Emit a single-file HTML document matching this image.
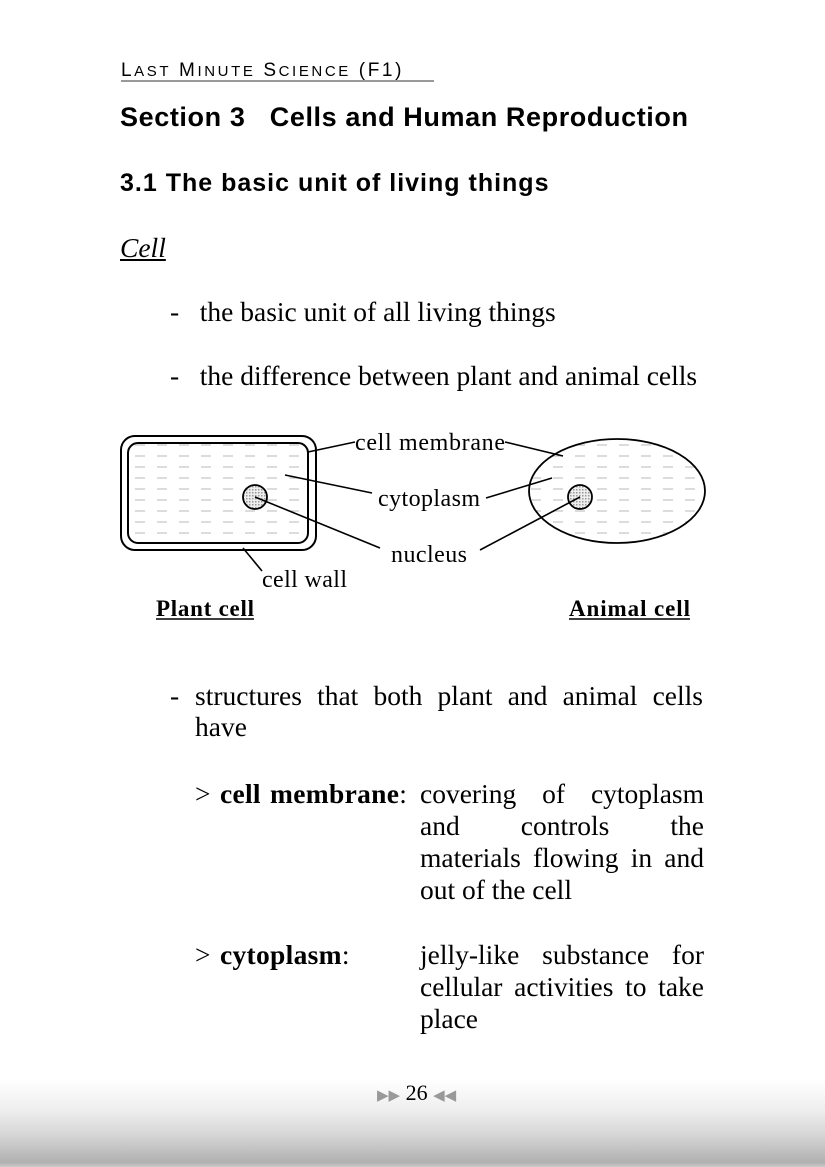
<!DOCTYPE html>
<html><head><meta charset="utf-8"><style>
body{margin:0;width:825px;height:1167px;position:relative;background:#fff;overflow:hidden;font-family:"Liberation Serif",serif;color:#000}
.a{position:absolute;white-space:nowrap}
.s{font-family:"Liberation Sans",sans-serif;font-weight:bold}
.t{font-size:27.5px;font-family:"Liberation Serif",serif}
.j{text-align:justify;text-align-last:justify;display:block;font-family:"Liberation Serif",serif}
</style></head><body>
<div style="position:absolute;left:0;top:1080px;width:825px;height:87px;background:linear-gradient(#fff,#eee 35%,#d4d4d4 65%,#b0b0b0 95%,#ccc)"></div>
<div class="a" style="left:121px;top:61px;font-family:'Liberation Sans',sans-serif;font-size:19px;letter-spacing:2.6px;width:313px;height:19px;border-bottom:2px solid #999;line-height:20px">L<span style="font-size:15px">AST</span> M<span style="font-size:15px">INUTE</span> S<span style="font-size:15px">CIENCE</span> (F1)</div>
<div class="a s" style="left:120px;top:102px;font-size:27px;letter-spacing:0.6px">Section 3&nbsp;&nbsp; Cells and Human Reproduction</div>
<div class="a s" style="left:120px;top:169px;font-size:25px;letter-spacing:1px">3.1 The basic unit of living things</div>
<div class="a t" style="left:120px;top:232px;font-style:italic;text-decoration:underline">Cell</div>
<div class="a t" style="left:170px;top:296px">-&nbsp;&nbsp;&nbsp;the basic unit of all living things</div>
<div class="a t" style="left:170px;top:360px">-&nbsp;&nbsp;&nbsp;the difference between plant and animal cells</div>
<svg class="a" style="left:0;top:0" width="825" height="640">
<defs><pattern id="d" width="22" height="11" patternUnits="userSpaceOnUse"><line x1="3" y1="5" x2="13" y2="5" stroke="#c8c8c8" stroke-width="1.3"/></pattern>
<pattern id="n" width="3" height="3" patternUnits="userSpaceOnUse"><rect width="3" height="3" fill="#eee"/><rect width="1.5" height="1.5" fill="#999"/></pattern></defs>
<rect x="121" y="436" width="195" height="114" rx="14" fill="#fff" stroke="#000" stroke-width="2"/>
<rect x="128" y="443" width="180" height="100" rx="10" fill="url(#d)" stroke="#000" stroke-width="2"/>
<circle cx="255" cy="497" r="12" fill="url(#n)" stroke="#000" stroke-width="1.8"/>
<ellipse cx="617" cy="491" rx="88" ry="52" fill="url(#d)" stroke="#000" stroke-width="1.8"/>
<circle cx="580" cy="497" r="12" fill="url(#n)" stroke="#000" stroke-width="1.8"/>
<g stroke="#000" stroke-width="1.6">
<line x1="308" y1="452" x2="355" y2="442"/><line x1="505" y1="442" x2="563" y2="456"/>
<line x1="285" y1="475" x2="372" y2="493"/><line x1="486" y1="498" x2="552" y2="478"/>
<line x1="255" y1="497" x2="380" y2="548"/><line x1="480" y1="550" x2="580" y2="497"/>
<line x1="243" y1="548" x2="262" y2="571"/></g>
<g font-family="Liberation Serif,serif" font-size="24">
<text x="355" y="450" textLength="150">cell membrane</text><text x="378" y="506" textLength="102">cytoplasm</text>
<text x="391" y="562" textLength="76">nucleus</text><text x="262" y="587" textLength="85">cell wall</text></g>
<g font-family="Liberation Serif,serif" font-size="23" font-weight="bold">
<text x="156" y="616" textLength="98">Plant cell</text><text x="569" y="616" textLength="121">Animal cell</text></g>
<line x1="156" y1="619" x2="254" y2="619" stroke="#000" stroke-width="1.5"/>
<line x1="569" y1="619" x2="690" y2="619" stroke="#000" stroke-width="1.5"/>
</svg>
<div class="a t" style="left:170px;top:680px">-</div>
<div class="a t" style="left:195px;top:680px;width:508px"><span class="j">structures that both plant and animal cells</span></div>
<div class="a t" style="left:195px;top:711px">have</div>
<div class="a t" style="left:195px;top:778px;word-spacing:2px;letter-spacing:0.3px">&gt; <b>cell membrane</b>:</div>
<div class="a t" style="left:420px;top:778px;width:284px;white-space:normal;line-height:32px"><span class="j">covering of cytoplasm</span><span class="j">and controls the</span><span class="j">materials flowing in and</span>out of the cell</div>
<div class="a t" style="left:195px;top:939px;word-spacing:2px;letter-spacing:0.3px">&gt; <b>cytoplasm</b>:</div>
<div class="a t" style="left:420px;top:939px;width:284px;white-space:normal;line-height:32px"><span class="j">jelly-like substance for</span><span class="j">cellular activities to take</span>place</div>
<div class="a" style="left:377px;top:1080px;font-size:22px"><span style="color:#999;font-size:15px">&#9654;&#9654;</span> 26 <span style="color:#999;font-size:15px">&#9664;&#9664;</span></div>
</body></html>
